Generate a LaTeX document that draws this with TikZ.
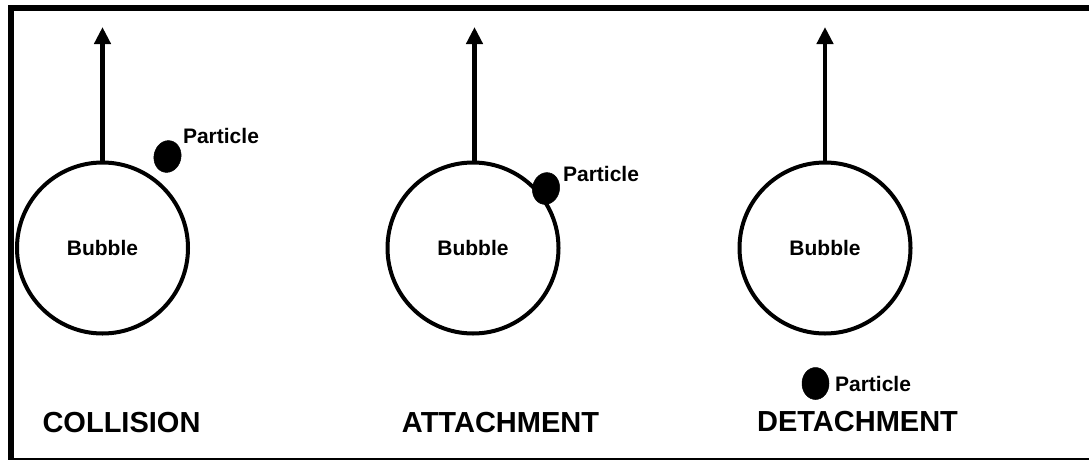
\documentclass[tikz,border=0pt]{standalone}
\usepackage{fontspec}
\setmainfont{Liberation Sans}
\usetikzlibrary{arrows.meta,shapes.geometric}
\begin{document}
\begin{tikzpicture}[x=1pt,y=-1pt,
  bubble/.style={circle,draw,line width=4pt,minimum size=171pt,inner sep=0pt,
    font=\fontsize{21}{25}\selectfont\bfseries},
  particle/.style={ellipse,fill=black,draw=black,line width=0.5pt,minimum width=27pt,minimum height=32pt,inner sep=0pt},
  plabel/.style={font=\fontsize{21}{25}\selectfont\bfseries,inner sep=0pt},
  title/.style={font=\fontsize{29}{34}\selectfont\bfseries,inner sep=0pt},
  rise/.style={line width=4.5pt,-{Triangle[width=16pt,length=17pt]}}]
\useasboundingbox (0,0) rectangle (1089,461);
% frame
\draw[line width=6pt] (1089,8) -- (11,8);
\draw[line width=6pt] (11,5) -- (11,459.5);
\draw[line width=2.5pt] (8,458.8) -- (1089,458.8);
% bubbles
\node[bubble] (b1) at (102.5,248) {Bubble};
\node[bubble] (b2) at (473,248) {Bubble};
\node[bubble] (b3) at (825,248) {Bubble};
% arrows
\coordinate (t1) at (102.5,27);
\coordinate (t2) at (474.5,27);
\coordinate (t3) at (825,27);
\draw[rise] (b1.north) -- (t1);
\draw[rise] ([xshift=1.5pt]b2.north) -- (t2);
\draw[rise] (b3.north) -- (t3);
% particles
\node[particle,rotate=-12] (p1) at (167.5,156.5) {};
\node[particle,rotate=-12] (p2) at (546,188.5) {};
\node[particle] (p3) at (815.5,383.5) {};
\node[plabel] (l1) at (221,136) {Particle};
\node[plabel] (l2) at (601,174) {Particle};
\node[plabel] (l3) at (873,384) {Particle};
% titles
\node[title] (c) at (121.5,422.5) {COLLISION};
\node[title] (a) at (500.5,422.5) {ATTACHMENT};
\node[title] (d) at (857.5,421.5) {DETACHMENT};
\end{tikzpicture}
\end{document}
